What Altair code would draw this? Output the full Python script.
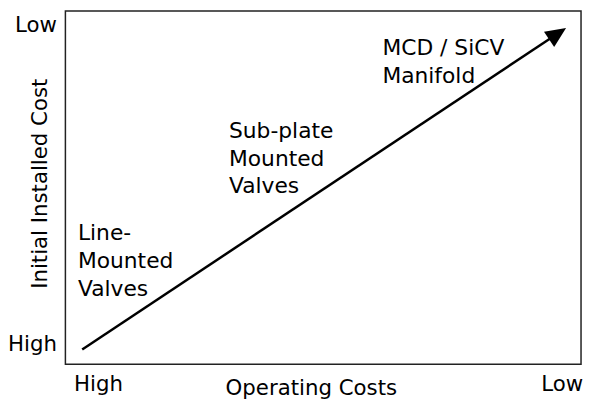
import math
import altair as alt
import pandas as pd

# ---- data ----
label_text = ["Line-\nMounted\nValves", "Sub-plate\nMounted\nValves", "MCD / SiCV\nManifold"]
label_x = [0.0243, 0.3173, 0.6148]
label_y = [0.351, 0.6406, 0.876]

arrow_x = [0.0326, 0.971]   # start, tip
arrow_y = [0.042, 0.952]

x_tick_pos = [0.0633, 0.9626]
x_tick_labels = ["High", "Low"]
y_tick_pos = [0.055, 0.958]
y_tick_labels = ["High", "Low"]

x_title = "Operating Costs"
y_title = "Initial Installed Cost"

W, H = 521, 357
FONT = "DejaVu Sans"
INK = "#000000"

# ---- tables ----
labels_df = pd.DataFrame({"x": label_x, "y": label_y, "t": label_text})
frac = 0.975
shaft_df = pd.DataFrame({
    "x": [arrow_x[0], arrow_x[0] + frac * (arrow_x[1] - arrow_x[0])],
    "y": [arrow_y[0], arrow_y[0] + frac * (arrow_y[1] - arrow_y[0])],
})
head_df = pd.DataFrame({"x": [arrow_x[1]], "y": [arrow_y[1]]})

dx = (arrow_x[1] - arrow_x[0]) * W
dy = (arrow_y[1] - arrow_y[0]) * H
head_angle = 90 - math.degrees(math.atan2(dy, dx))


def expr(pos, names):
    mid = (pos[0] + pos[1]) / 2
    return f"datum.value < {mid} ? '{names[0]}' : '{names[1]}'"


common_axis = dict(domain=False, ticks=False, grid=False, labelFont=FONT,
                   labelFontSize=21.5, labelColor=INK, labelFlush=False,
                   titleFont=FONT, titleFontSize=21.5, titleFontWeight="normal",
                   titleColor=INK, titleBaseline="alphabetic", labelPadding=9)

x_enc = alt.X("x:Q", scale=alt.Scale(domain=[0, 1], nice=False, zero=False),
              axis=alt.Axis(values=x_tick_pos, labelExpr=expr(x_tick_pos, x_tick_labels),
                            labelAngle=0, title=x_title, titleX=248, titleY=30,
                            **common_axis))
y_enc = alt.Y("y:Q", scale=alt.Scale(domain=[0, 1], nice=False, zero=False),
              axis=alt.Axis(values=y_tick_pos, labelExpr=expr(y_tick_pos, y_tick_labels),
                            title=y_title, titleX=-19, titleY=174, titleAngle=-90,
                            titleAlign="center", **common_axis))

shaft = alt.Chart(shaft_df).mark_line(color="black", strokeWidth=2.5).encode(x=x_enc, y=y_enc)

head = alt.Chart(head_df).mark_point(
    shape="M0,0L0.45,1L-0.45,1Z", filled=True, size=1700, angle=head_angle,
    color="black", opacity=1, strokeWidth=0,
).encode(x=x_enc, y=y_enc)

texts = alt.Chart(labels_df).mark_text(
    align="left", baseline="alphabetic", lineBreak="\n", lineHeight=28,
    font=FONT, fontSize=22, color=INK,
).encode(x=x_enc, y=y_enc, text="t:N")

chart = alt.layer(shaft, head, texts).properties(
    width=W, height=H,
    padding={"left": 58, "top": 1, "right": 3, "bottom": 36},
    autosize=alt.AutoSizeParams(type="none"),
).configure_view(stroke="#222222", strokeWidth=1.5)

chart.save("out.html", embed_options={"renderer": "svg", "actions": False})
